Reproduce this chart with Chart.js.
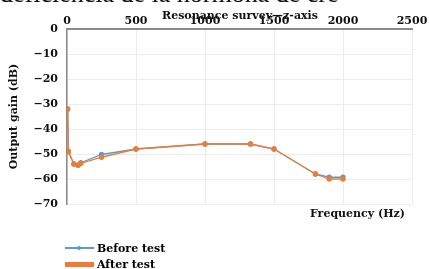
<!DOCTYPE html>
<html>
<head>
<meta charset="utf-8">
<script src="https://cdn.jsdelivr.net/npm/chart.js@4/dist/chart.umd.min.js"></script>
<style>
    body { margin: 0; background: #fff; }
    #wrap { position: relative; width: 429px; height: 269px; overflow: hidden; font-family: "DejaVu Serif", "Liberation Serif", serif; }
    #chart { position: absolute; left: 0; top: 0; }
    .txt { position: absolute; white-space: nowrap; color: #111; }
    #cut { left: 0; top: -21px; font-size: 26px; font-family: "Liberation Serif", serif; }
    #title { left: 0; width: 480px; text-align: center; top: 9px; font-size: 11px; font-weight: bold; }
    #xlab { left: 310px; top: 207px; font-size: 11px; font-weight: bold; }
    #legend { position: absolute; left: 65px; top: 240px; font-size: 11px; font-weight: bold; }
    .item { height: 16px; display: flex; align-items: center; }
    .sw { width: 29px; margin-right: 3px; position: relative; }
</style>
</head>
<body>
<div id="wrap">
    <div id="cut" class="txt">deficiencia de la hormona de cre</div>
    <canvas id="chart" width="429" height="269"></canvas>
    <div id="title" class="txt">Resonance survey—z-axis</div>
    <div id="xlab" class="txt">Frequency (Hz)</div>
    <div id="legend"></div>
</div>
<script>
const frequencies = [5, 10, 50, 80, 100, 250, 500, 1000, 1330, 1500, 1800, 1900, 2000];
const beforeTest = [-32, -49, -54, -54.5, -53.5, -50.2, -48, -46, -46, -48, -58, -59.3, -59.3];
const afterTest = [-32, -49, -54, -54.5, -53.8, -51.3, -48, -46, -46, -48, -58, -60, -60];
const xTicks = [0, 500, 1000, 1500, 2000, 2500];
const yTicks = [0, -10, -20, -30, -40, -50, -60, -70];

const blue = '#5b9bd5';
const orange = '#ed7d31';

function toPoints(values) {
    return frequencies.map((f, i) => ({ x: f, y: values[i] }));
}

const tickFont = { family: '"DejaVu Serif", "Liberation Serif", serif', size: 11, weight: 'bold' };

const chart = new Chart(document.getElementById('chart').getContext('2d'), {
    type: 'scatter',
    data: {
        datasets: [{
            label: 'Before test',
            data: toPoints(beforeTest),
            showLine: true,
            borderColor: blue,
            backgroundColor: blue,
            borderWidth: 1.3,
            pointRadius: 2,
            order: 2
        }, {
            label: 'After test',
            data: toPoints(afterTest),
            showLine: true,
            borderColor: orange,
            backgroundColor: orange,
            borderWidth: 1.3,
            pointRadius: 2,
            order: 1
        }]
    },
    options: {
        responsive: false,
        animation: false,
        layout: { padding: { left: 0, right: 17, top: 0, bottom: 65 } },
        plugins: {
            legend: { display: false },
            tooltip: { enabled: false }
        },
        scales: {
            x: {
                type: 'linear',
                position: 'top',
                min: 0,
                max: 2500,
                afterBuildTicks: s => { s.ticks = xTicks.map(v => ({ value: v })); },
                afterFit: s => { s.height = 29; },
                ticks: { color: '#111', font: tickFont, padding: 1, maxRotation: 0, callback: v => String(v) },
                grid: { color: '#ececec', drawTicks: false },
                border: { color: '#8a8a8a', width: 2 }
            },
            y: {
                min: -70,
                max: 0,
                afterBuildTicks: s => { s.ticks = yTicks.map(v => ({ value: v })); },
                afterFit: s => { s.width = 67; },
                ticks: {
                    color: '#111',
                    font: tickFont,
                    padding: 9,
                    callback: v => String(v).replace('-', '\u2212')
                },
                title: {
                    display: true,
                    text: 'Output gain (dB)',
                    color: '#111',
                    font: { family: '"DejaVu Serif", "Liberation Serif", serif', size: 11, weight: 'bold' },
                    padding: { top: 8, bottom: 0 }
                },
                grid: { color: '#ececec', drawTicks: false },
                border: { color: '#8a8a8a', width: 1.5 }
            }
        }
    }
});

// legend stacked vertically, built from the datasets
const legend = document.getElementById('legend');
chart.data.datasets.forEach((ds, i) => {
    const item = document.createElement('div');
    item.className = 'item';
    const thick = i === 1 ? 5 : 1.5;
    item.innerHTML = '<span class="sw" style="height:' + thick + 'px;background:' + ds.borderColor + '">' +
        '<span style="position:absolute;left:12px;top:' + (thick / 2 - 2) + 'px;width:4px;height:4px;border-radius:2px;background:' + ds.borderColor + '"></span></span>' +
        ds.label;
    legend.appendChild(item);
});
</script>
</body>
</html>
